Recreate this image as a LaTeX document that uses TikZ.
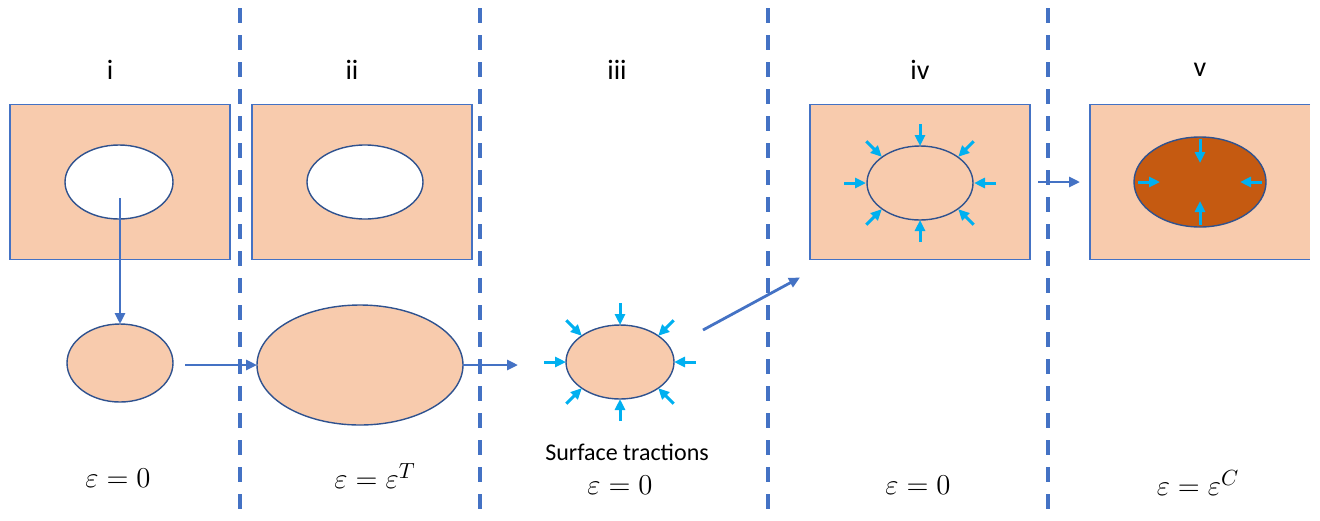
\documentclass[tikz,border=0pt]{standalone}
\usepackage[no-math]{fontspec}
\newfontfamily\calibri{Carlito}
\usepackage{amsmath}
\usetikzlibrary{shapes.geometric, arrows.meta, calc}
\definecolor{incpeach}{RGB}{248,203,173}
\definecolor{incblue}{RGB}{68,114,196}
\definecolor{incnavy}{RGB}{47,82,143}
\definecolor{inccyan}{RGB}{0,176,240}
\definecolor{incrust}{RGB}{197,90,17}
\tikzset{
  %% ---- boxes ----
  matrixbox/.style = {rectangle, draw=incblue, line width=0.7pt,
                   fill=incpeach, minimum width=110pt, minimum height=77.5pt,
                   inner sep=0pt, outer sep=0pt},
  inclusion/.style = {ellipse, draw=incnavy, line width=0.7pt,
                   fill=incpeach, inner sep=0pt, outer sep=0pt},
  hole/.style    = {inclusion, fill=white},
  %% ---- texts ----
  stagelabel/.style = {font=\calibri\fontsize{14}{16}\selectfont},
  strainlabel/.style = {font=\fontsize{15}{17}\selectfont},
  %% ---- lines ----
  divider/.style = {draw=incblue, line width=1.6pt, dash pattern=on 7.5pt off 6pt},
  flow/.style    = {-{Triangle[length=5.5pt, width=5pt]}, line width=1.4pt, color=incblue},
  traction/.style= {-{Triangle[length=5.5pt, width=5pt]}, line width=1.5pt, color=inccyan},
}
\begin{document}
\begin{tikzpicture}[x=0.5pt, y=-0.5pt]
  \useasboundingbox (0,0) rectangle (1320,520);

  %% dividers between the stages
  \foreach \x in {240,480,768,1048}
    \draw[divider] (\x,8) -- (\x,520);

  %% stage labels
  \foreach \x/\s in {110/i, 352/ii, 617/iii, 920/iv, 1200/v}
    \node[stagelabel] (lab\s) at (\x,70) {\s};

  %% Stage i
  \node[matrixbox] (panel1) at (120,182) {};
  \node[hole, minimum width=54pt, minimum height=37pt] (hole1) at (119,182) {};
  \node[inclusion, minimum width=53pt, minimum height=39pt] (body1) at (120,363) {};

  %% Stage ii
  \node[matrixbox] (panel2) at (362,182) {};
  \node[hole, minimum width=58pt, minimum height=37pt] (hole2) at (365,182) {};
  \node[inclusion, minimum width=103pt, minimum height=60pt] (body2) at (360,365) {};

  %% Stage iii
  \node[inclusion, minimum width=54pt, minimum height=37pt] (body3) at (620,362) {};

  %% Stage iv
  \node[matrixbox] (panel4) at (920,182) {};
  \node[inclusion, minimum width=53pt, minimum height=37pt] (cav4) at (920,183) {};

  %% Stage v
  \node[matrixbox, draw=none] (panel5) at (1200,182) {};
  \draw[incblue, line width=0.7pt] (panel5.north east) -- (panel5.north west)
    -- (panel5.south west) -- (panel5.south east);
  \node[inclusion, fill=incrust, minimum width=66pt, minimum height=45pt] (incl5) at (1200,182) {};

  %% surface tractions
  \foreach \c in {body3, cav4}
    \foreach \a in {0,45,...,315}
      \draw[traction] ([shift={({76*cos(\a)},{59*sin(\a)})}]\c.center)
        -- ([shift={({54*cos(\a)},{37*sin(\a)})}]\c.center);
  \foreach \a in {0,90,180,270}
    \draw[traction] ([shift={({62*cos(\a)},{43*sin(\a)})}]incl5.center)
      -- ([shift={({40*cos(\a)},{19*sin(\a)})}]incl5.center);

  %% sequence arrows
  \draw[flow] ([shift={(1,16)}]hole1.center) -- (body1);
  \draw[flow] ([shift={(12,2)}]body1.east) -- (body2.west);
  \draw[flow, shorten >=24pt] (body2.east) -- (body2.east -| body3.west);
  \draw[flow] ([shift={(83,-32)}]body3.center) -- ([shift={(-10,18)}]panel4.south west);
  \draw[flow, shorten <=4pt, shorten >=5pt] (panel4.east) -- (panel5.west);

  %% strains
  \node[strainlabel] (eps1) at (118,478) {$\varepsilon = 0$};
  \node[strainlabel] (eps2) at (375,476) {$\varepsilon = \varepsilon^{T}$};
  \node[font=\calibri\fontsize{12}{14}\selectfont] (trac3) at (627,452) {Surface tractions};
  \node[strainlabel] (eps3) at (620,485) {$\varepsilon = 0$};
  \node[strainlabel] (eps4) at (918,485) {$\varepsilon = 0$};
  \node[strainlabel] (eps5) at (1198,483) {$\varepsilon = \varepsilon^{C}$};

\end{tikzpicture}
\end{document}
